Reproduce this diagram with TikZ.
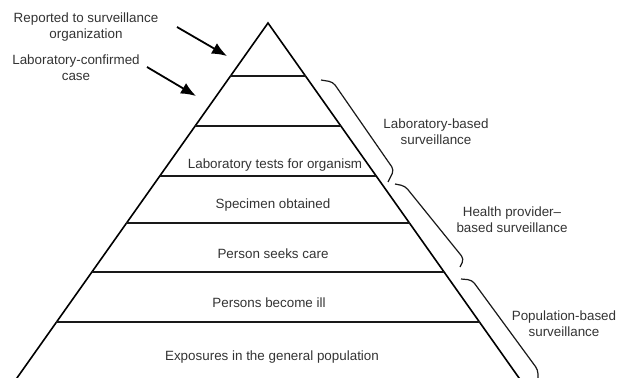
\documentclass[tikz,border=0pt]{standalone}
\usepackage{fontspec}
\setmainfont{Liberation Sans}
\usetikzlibrary{arrows.meta}

\tikzset{
  side/.style={line width=1.6pt, black},
  level line/.style={line width=1.8pt, black!90},
  brace line/.style={line width=1.2pt, black!90, rounded corners=4pt},
  pointer/.style={line width=1.8pt, -{Latex[length=15pt,width=12pt]}},
  lbl/.style={inner sep=0pt, text=black!80, font=\fontsize{13.4}{16}\selectfont, align=center}
}

\begin{document}
\begin{tikzpicture}[x=1pt, y=-1pt]
	\useasboundingbox (0,0) rectangle (617,377);
	\clip (0,0) rectangle (617,377);
	% pyramid
	\coordinate (apex) at (268,23);
	\coordinate (baseL) at (12,385);
	\coordinate (baseR) at (524,385);
	\draw[side] (baseL) -- (apex) -- (baseR);
	% levels
	\foreach \y/\n in {76/1,126/2,176/3,223/4,272/5,322/6} {
		\pgfmathsetmacro\hw{0.708*(\y-23)}
		\coordinate (L\n) at ({268-\hw},\y);
		\coordinate (R\n) at ({268+\hw},\y);
		\draw[level line] (L\n) -- (R\n);
	}
	% level texts
	\node[lbl, anchor=base] (tests) at (275,168) {Laboratory tests for organism};
	\node[lbl, anchor=base] (specimen) at (273,208) {Specimen obtained};
	\node[lbl, anchor=base] (care) at (273,258) {Person seeks care};
	\node[lbl, anchor=base] (ill) at (269,307) {Persons become ill};
	\node[lbl, anchor=base] (exposure) at (272,360) {Exposures in the general population};
	% left labels and arrows
	\node[lbl] (reported) at (86,27) {Reported to surveillance\\organization};
	\node[lbl] (confirmed) at (76,68) {Laboratory-confirmed\\case};
	\coordinate (tailA) at (177,27);
	\coordinate (tipA) at (227,56);
	\coordinate (tailB) at (147,67);
	\coordinate (tipB) at (196,96);
	\draw[pointer] (tailA) -- (tipA);
	\draw[pointer] (tailB) -- (tipB);
	% braces
	\draw[brace line] (321,80) -- (333,82) -- (394,170) -- (388,182);
	\draw[brace line] (395,184) -- (405,186) -- (464,259) -- (460,267);
	\draw[brace line] (461,279) -- (472,280) -- (538,370) -- (538,385);
	\node[lbl] (labbased) at (436,132) {Laboratory-based\\surveillance};
	\node[lbl] (provider) at (512,220) {Health provider--\\based surveillance};
	\node[lbl] (population) at (564,324) {Population-based\\surveillance};
\end{tikzpicture}
\end{document}
